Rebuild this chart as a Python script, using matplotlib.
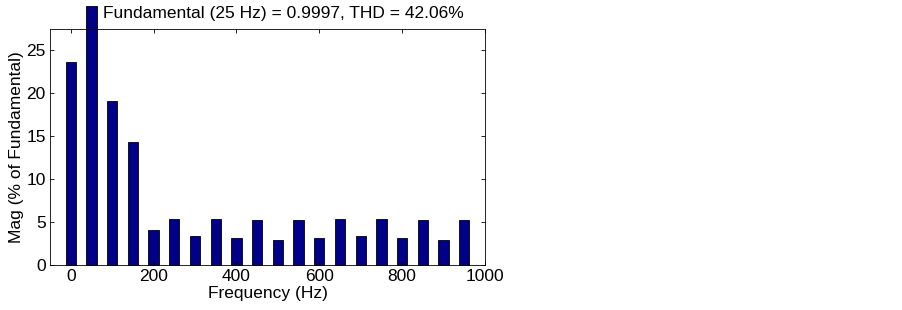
import matplotlib
matplotlib.use('Agg')
import matplotlib.pyplot as plt

# harmonic spectrum (Hz, % of fundamental)
freq = [0, 50, 100, 150, 200, 250, 300, 350, 400, 450,
        500, 550, 600, 650, 700, 750, 800, 850, 900, 950]
mag = [23.6, 30.2, 19.1, 14.3, 4.1, 5.4, 3.4, 5.4, 3.1, 5.3,
       2.9, 5.3, 3.2, 5.4, 3.4, 5.4, 3.1, 5.3, 2.9, 5.3]
xticks = [0, 200, 400, 600, 800, 1000]
yticks = [0, 5, 10, 15, 20, 25]
title = 'Fundamental (25 Hz) = 0.9997, THD = 42.06%'

plt.rcParams['font.family'] = ['Liberation Sans', 'DejaVu Sans']
fs = 12.5

fig = plt.figure(figsize=(9.03, 3.10), dpi=100)
ax = fig.add_axes([50 / 903, 1 - 265 / 310, 435 / 903, 236 / 310])

bars = ax.bar(freq, mag, width=25, color='#000088', edgecolor='black', linewidth=0.6)
for b in bars:
    b.set_clip_on(False)

ax.set_xlim(-50, 1000)
ax.set_ylim(0, 27.5)
ax.set_xticks(xticks)
ax.set_yticks(yticks)
ax.tick_params(direction='in', length=3, width=0.6, top=True, right=True,
               labelsize=fs, pad=3)
for s in ax.spines.values():
    s.set_linewidth(0.6)

ax.set_xlabel('Frequency (Hz)', fontsize=fs, labelpad=1)
ax.set_ylabel('Mag (% of Fundamental)', fontsize=fs, labelpad=2)
ax.text(0.536, 1.065, title, transform=ax.transAxes, ha='center', va='center',
        fontsize=fs, zorder=0)

fig.savefig('out.png', dpi=100, facecolor='white')
